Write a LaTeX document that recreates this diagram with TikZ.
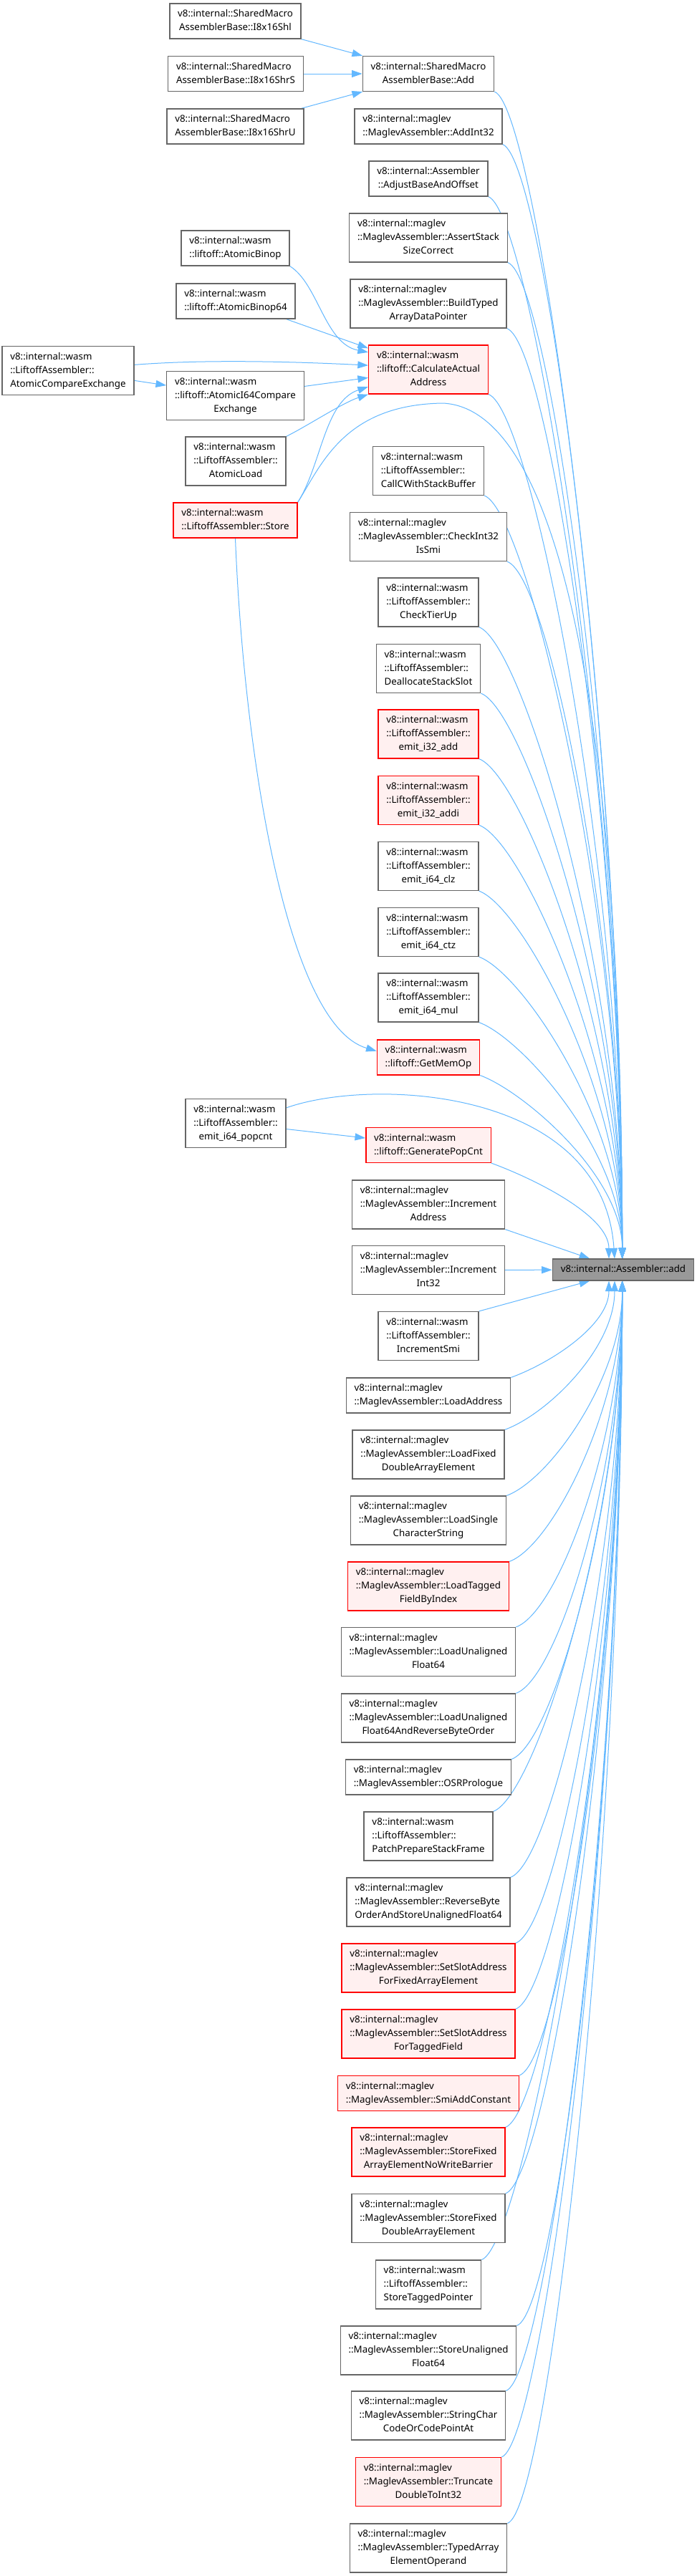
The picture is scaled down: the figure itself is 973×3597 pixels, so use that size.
\documentclass[tikz,border=0pt]{standalone}
\usepackage{fontspec}
\setmainfont{Noto Sans}
\usepackage{xcolor}
\usepackage{tikz}
\usetikzlibrary{arrows.meta, backgrounds}

\definecolor{edgeblue}{HTML}{63B8FF}
\definecolor{boxgray}{HTML}{666666}
\definecolor{hlfill}{HTML}{FFF0F0}
\definecolor{rootfill}{HTML}{999999}

%% label: all lines but the last left aligned, last line centred
\newcommand{\fnlab}[2]{\begin{tabular}{@{}l@{}}#1\\\multicolumn{1}{@{}c@{}}{#2}\end{tabular}}

\begin{document}
\begin{tikzpicture}[
    x=0.75pt, y=0.75pt,
    func/.style={rectangle, draw=boxgray, fill=white, line width=1pt, inner xsep=8.5pt, inner ysep=4pt, font=\fontsize{10}{14.3}\selectfont},
    hlfunc/.style={func, draw=red, fill=hlfill},
    rootfunc/.style={func, fill=rootfill},
    arrow/.style={-{Triangle[length=11pt, width=7.5pt]}, draw=edgeblue, line width=0.75pt}
]
\useasboundingbox (0,0) rectangle (973,-3597);

%% ─────────────────────────────────────────────────────────────────────
%% Column x-positions (px, y grows downwards as -y):
%%   far left: 95    left: 328.5    right column: 598    root: 868.5
%% ─────────────────────────────────────────────────────────────────────

%% ── Root ─────────────────────────────────────────────────────────────
\node[rootfunc] (tgt) at (870,-1773) {v8::internal::Assembler::add\strut};
\coordinate (topin) at ([xshift=-1pt]tgt.north);
\coordinate (botin) at ([xshift=-1pt]tgt.south);

%% ── Left columns ─────────────────────────────────────────────────────
\node[func]   (shl)           at (328.5, -29.5)  {\fnlab{v8::internal::SharedMacro}{AssemblerBase::I8x16Shl}};
\node[func]   (shrs)          at (329,  -103)    {\fnlab{v8::internal::SharedMacro}{AssemblerBase::I8x16ShrS}};
\node[func]   (shru)          at (328.5,-176.5)  {\fnlab{v8::internal::SharedMacro}{AssemblerBase::I8x16ShrU}};
\node[func]   (atomicbinop)   at (328.5,-346.5)  {\fnlab{v8::internal::wasm}{::liftoff::AtomicBinop}};
\node[func]   (atomicbinop64) at (329,  -420.5)  {\fnlab{v8::internal::wasm}{::liftoff::AtomicBinop64}};
\node[func]   (ace)           at (95,   -517.5)  {\fnlab{v8::internal::wasm\\::LiftoffAssembler::}{AtomicCompareExchange}};
\node[func]   (atomici64)     at (328.5,-552.5)  {\fnlab{v8::internal::wasm\\::liftoff::AtomicI64Compare}{Exchange}};
\node[func]   (atomicload)    at (329,  -644)    {\fnlab{v8::internal::wasm\\::LiftoffAssembler::}{AtomicLoad}};
\node[hlfunc] (store)         at (328.5,-726.5)  {\fnlab{v8::internal::wasm}{::LiftoffAssembler::Store}};
\node[func]   (popcnt)        at (329, -1568.5)  {\fnlab{v8::internal::wasm\\::LiftoffAssembler::}{emit\_i64\_popcnt}};

%% ── Right column, above the root ─────────────────────────────────────
\node[func]   (addsm)       at (598, -103)    {\fnlab{v8::internal::SharedMacro}{AssemblerBase::Add}};
\node[func]   (addint32)    at (598, -176.5)  {\fnlab{v8::internal::maglev}{::MaglevAssembler::AddInt32}};
\node[func]   (adjust)      at (598, -249.5)  {\fnlab{v8::internal::Assembler}{::AdjustBaseAndOffset}};
\node[func]   (assertstack) at (598, -332)    {\fnlab{v8::internal::maglev\\::MaglevAssembler::AssertStack}{SizeCorrect}};
\node[func]   (buildtyped)  at (598, -424)    {\fnlab{v8::internal::maglev\\::MaglevAssembler::BuildTyped}{ArrayDataPointer}};
\node[hlfunc] (calcaddr)    at (598, -516)    {\fnlab{v8::internal::wasm\\::liftoff::CalculateActual}{Address}};
\node[func]   (callc)       at (598, -657.5)  {\fnlab{v8::internal::wasm\\::LiftoffAssembler::}{CallCWithStackBuffer}};
\node[func]   (checkint32)  at (598, -749.5)  {\fnlab{v8::internal::maglev\\::MaglevAssembler::CheckInt32}{IsSmi}};
\node[func]   (checktierup) at (598, -841)    {\fnlab{v8::internal::wasm\\::LiftoffAssembler::}{CheckTierUp}};
\node[func]   (dealloc)     at (598, -933.5)  {\fnlab{v8::internal::wasm\\::LiftoffAssembler::}{DeallocateStackSlot}};
\node[hlfunc] (i32add)      at (598,-1025)    {\fnlab{v8::internal::wasm\\::LiftoffAssembler::}{emit\_i32\_add}};
\node[hlfunc] (i32addi)     at (598,-1117.5)  {\fnlab{v8::internal::wasm\\::LiftoffAssembler::}{emit\_i32\_addi}};
\node[func]   (i64clz)      at (598,-1209.5)  {\fnlab{v8::internal::wasm\\::LiftoffAssembler::}{emit\_i64\_clz}};
\node[func]   (i64ctz)      at (598,-1301.5)  {\fnlab{v8::internal::wasm\\::LiftoffAssembler::}{emit\_i64\_ctz}};
\node[func]   (i64mul)      at (598,-1393)    {\fnlab{v8::internal::wasm\\::LiftoffAssembler::}{emit\_i64\_mul}};
\node[hlfunc] (getmemop)    at (598,-1476.5)  {\fnlab{v8::internal::wasm}{::liftoff::GetMemOp}};
\node[hlfunc] (genpopcnt)   at (598,-1599)    {\fnlab{v8::internal::wasm}{::liftoff::GeneratePopCnt}};
\node[func]   (incaddr)     at (598,-1682)    {\fnlab{v8::internal::maglev\\::MaglevAssembler::Increment}{Address}};
\node[func]   (incint32)    at (598,-1773.5)  {\fnlab{v8::internal::maglev\\::MaglevAssembler::Increment}{Int32}};

%% ── Right column, below the root ─────────────────────────────────────
\node[func]   (incsmi)        at (598,-1865.5) {\fnlab{v8::internal::wasm\\::LiftoffAssembler::}{IncrementSmi}};
\node[func]   (loadaddr)      at (598,-1948.5) {\fnlab{v8::internal::maglev}{::MaglevAssembler::LoadAddress}};
\node[func]   (loadfixed)     at (598,-2031)   {\fnlab{v8::internal::maglev\\::MaglevAssembler::LoadFixed}{DoubleArrayElement}};
\node[func]   (loadsingle)    at (598,-2123)   {\fnlab{v8::internal::maglev\\::MaglevAssembler::LoadSingle}{CharacterString}};
\node[hlfunc] (loadtagged)    at (598,-2215)   {\fnlab{v8::internal::maglev\\::MaglevAssembler::LoadTagged}{FieldByIndex}};
\node[func]   (loadunal)      at (598,-2306.5) {\fnlab{v8::internal::maglev\\::MaglevAssembler::LoadUnaligned}{Float64}};
\node[func]   (loadunalrev)   at (598,-2399)   {\fnlab{v8::internal::maglev\\::MaglevAssembler::LoadUnaligned}{Float64AndReverseByteOrder}};
\node[func]   (osr)           at (598,-2481.5) {\fnlab{v8::internal::maglev}{::MaglevAssembler::OSRPrologue}};
\node[func]   (patch)         at (598,-2564)   {\fnlab{v8::internal::wasm\\::LiftoffAssembler::}{PatchPrepareStackFrame}};
\node[func]   (reverse)       at (598,-2656)   {\fnlab{v8::internal::maglev\\::MaglevAssembler::ReverseByte}{OrderAndStoreUnalignedFloat64}};
\node[hlfunc] (setslotfixed)  at (598,-2748)   {\fnlab{v8::internal::maglev\\::MaglevAssembler::SetSlotAddress}{ForFixedArrayElement}};
\node[hlfunc] (setslottagged) at (598,-2840)   {\fnlab{v8::internal::maglev\\::MaglevAssembler::SetSlotAddress}{ForTaggedField}};
\node[hlfunc] (smiadd)        at (598,-2923)   {\fnlab{v8::internal::maglev}{::MaglevAssembler::SmiAddConstant}};
\node[hlfunc] (storefixedarr) at (598,-3005)   {\fnlab{v8::internal::maglev\\::MaglevAssembler::StoreFixed}{ArrayElementNoWriteBarrier}};
\node[func]   (storefixeddbl) at (598,-3097.5) {\fnlab{v8::internal::maglev\\::MaglevAssembler::StoreFixed}{DoubleArrayElement}};
\node[func]   (storetagged)   at (598,-3190)   {\fnlab{v8::internal::wasm\\::LiftoffAssembler::}{StoreTaggedPointer}};
\node[func]   (storeunal)     at (598,-3282)   {\fnlab{v8::internal::maglev\\::MaglevAssembler::StoreUnaligned}{Float64}};
\node[func]   (stringchar)    at (598,-3373)   {\fnlab{v8::internal::maglev\\::MaglevAssembler::StringChar}{CodeOrCodePointAt}};
\node[hlfunc] (truncate)      at (598,-3465.5) {\fnlab{v8::internal::maglev\\::MaglevAssembler::Truncate}{DoubleToInt32}};
\node[func]   (typedarray)    at (598,-3558)   {\fnlab{v8::internal::maglev\\::MaglevAssembler::TypedArray}{ElementOperand}};

%% ── Arrows ───────────────────────────────────────────────────────────
\begin{scope}[on background layer]
  \fill[white] (0,0) rectangle (973,-3597);

  %% into SharedMacroAssemblerBase::Add
  \draw[arrow] (shl)  -- (addsm);
  \draw[arrow] (shrs) -- (addsm);
  \draw[arrow] (shru) -- (addsm);

  %% into CalculateActualAddress
  \draw[arrow] (atomicbinop.south east) .. controls +(40,-25) and +(-61,12) .. (calcaddr.164);
  \draw[arrow] (atomicbinop64) -- (calcaddr);
  \draw[arrow] (ace.5) .. controls +(100,8) and +(-100,5) .. (calcaddr.176);
  \draw[arrow] (ace) -- (atomici64);
  \draw[arrow] (atomici64) -- (calcaddr);
  \draw[arrow] (atomicload.north east) .. controls +(30,15) and +(-36,-12) .. (calcaddr.south west);
  \draw[arrow] (store.north east) .. controls +(33,52) and +(-61,-20) .. (calcaddr.196);

  %% Store: long loops
  \draw[arrow] (store.north east) .. controls +(33,52) and +(-138,-2) .. (618,-563)
               .. controls +(162,-7) and +(0,758) .. (topin);
  \draw[arrow] (store.south) .. controls +(12,-299) and +(-126,37) .. (getmemop.173);

  %% emit_i64_popcnt
  \draw[arrow] (popcnt) -- (genpopcnt);
  \draw[arrow] (popcnt.17) .. controls +(121,43) and +(-16,238) .. ([xshift=-9pt]tgt.north);

  %% right column -> root (above)
  \foreach \n/\h in {addsm/730, addint32/700, adjust/668, assertstack/626, buildtyped/585,
                     calcaddr/544, callc/480, checkint32/438, checktierup/397, dealloc/356,
                     i32add/315, i32addi/273, i64clz/232, i64ctz/190, i64mul/149, getmemop/116}
    \draw[arrow] (\n.south east) .. controls +(60,-22) and +(0,\h) .. (topin);
  \draw[arrow] (genpopcnt.south east) .. controls +(60,-22) and +(0,60) .. ([xshift=-15pt]tgt.north);
  \draw[arrow] (incaddr.south east) -- ([xshift=-35pt]tgt.north);
  \draw[arrow] (incint32) -- (tgt);

  %% right column -> root (below)
  \draw[arrow] (incsmi.north east) -- ([xshift=-35pt]tgt.south);
  \draw[arrow] (loadaddr.north east) .. controls +(60,22) and +(0,-60) .. ([xshift=-15pt]tgt.south);
  \draw[arrow] (loadfixed.north east) .. controls +(60,22) and +(0,-94) .. ([xshift=-9pt]tgt.south);
  \foreach \n/\h in {loadsingle/135, loadtagged/176, loadunal/218, loadunalrev/259,
                     osr/300, patch/333, reverse/375, setslotfixed/416, setslottagged/458,
                     smiadd/500, storefixedarr/532, storefixeddbl/574, storetagged/615,
                     storeunal/657, stringchar/698, truncate/739, typedarray/781}
    \draw[arrow] (\n.north east) .. controls +(60,22) and +(0,-\h) .. (botin);
\end{scope}

\end{tikzpicture}
\end{document}
